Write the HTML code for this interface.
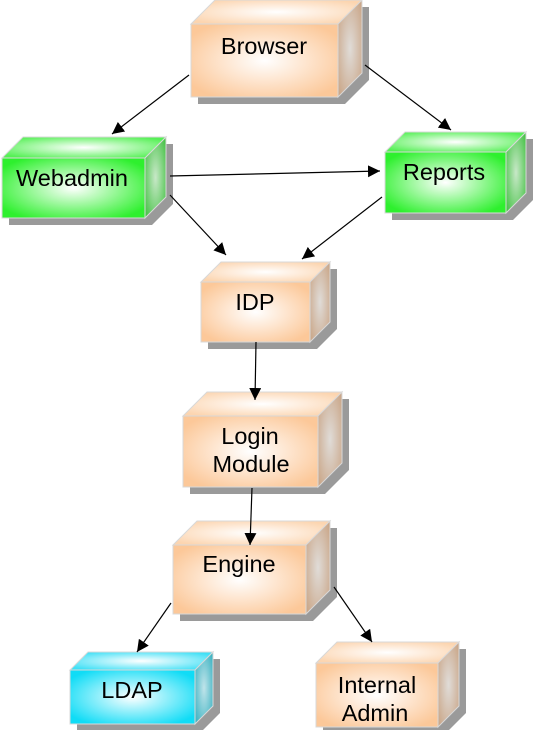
<!DOCTYPE html>
<html><head><meta charset="utf-8"><style>html,body{margin:0;padding:0;background:#fff}svg{display:block}</style></head>
<body>
<svg width="539" height="730" viewBox="0 0 539 730" xmlns="http://www.w3.org/2000/svg" font-family="Liberation Sans, sans-serif" font-size="23.5">
<defs>
<radialGradient id="fo" cx="0.5" cy="0.5" r="0.6"><stop offset="0" stop-color="#fff"/><stop offset="1" stop-color="#fcc899"/></radialGradient>
<radialGradient id="to" cx="0.5" cy="0.5" r="0.6"><stop offset="0" stop-color="#fff"/><stop offset="1" stop-color="#fcd5b0"/></radialGradient>
<radialGradient id="ro" cx="0.5" cy="0.5" r="0.7"><stop offset="0" stop-color="#e0dcd8"/><stop offset="1" stop-color="#c8a282"/></radialGradient>
<radialGradient id="fg" cx="0.5" cy="0.5" r="0.6"><stop offset="0" stop-color="#fff"/><stop offset="1" stop-color="#2ef02e"/></radialGradient>
<radialGradient id="tg" cx="0.5" cy="0.5" r="0.6"><stop offset="0" stop-color="#fff"/><stop offset="1" stop-color="#55f055"/></radialGradient>
<radialGradient id="rg" cx="0.5" cy="0.5" r="0.7"><stop offset="0" stop-color="#c8e8c8"/><stop offset="1" stop-color="#3cbf3c"/></radialGradient>
<radialGradient id="fc" cx="0.5" cy="0.5" r="0.6"><stop offset="0" stop-color="#fff"/><stop offset="1" stop-color="#10dcf6"/></radialGradient>
<radialGradient id="tc" cx="0.5" cy="0.5" r="0.6"><stop offset="0" stop-color="#fff"/><stop offset="1" stop-color="#40e0f6"/></radialGradient>
<radialGradient id="rc" cx="0.5" cy="0.5" r="0.7"><stop offset="0" stop-color="#c0e4ea"/><stop offset="1" stop-color="#30aebe"/></radialGradient>
<marker id="ar" viewBox="0 0 10 10" refX="10" refY="5" markerWidth="12" markerHeight="12" markerUnits="userSpaceOnUse" orient="auto"><path d="M0,0 L10,5 L0,10 z" fill="#000"/></marker>
</defs>
<g fill="#9a9a9a" transform="translate(7,7)">
<polygon points="191,24 215,0 362,0 362,73 338,97 191,97"/>
<polygon points="2,158 23,137 166,137 166,197 145,218 2,218"/>
<polygon points="385,152 405,132 526,132 526,193 506,213 385,213"/>
<polygon points="201,282 221,262 330,262 330,322 310,342 201,342"/>
<polygon points="183,416 207,392 342,392 342,463 318,487 183,487"/>
<polygon points="173,545 197,521 330,521 330,590 306,614 173,614"/>
<polygon points="70,670 88,652 213,652 213,706 195,724 70,724"/>
<polygon points="316,663 337,642 459,642 459,706 438,727 316,727"/>
</g>
<g stroke="#d8d8d8" stroke-width="1">
<rect x="191" y="24" width="147" height="73" fill="url(#fo)"/><polygon points="191,24 215,0 362,0 338,24" fill="url(#to)"/><polygon points="338,24 362,0 362,73 338,97" fill="url(#ro)"/>
<rect x="2" y="158" width="143" height="60" fill="url(#fg)"/><polygon points="2,158 23,137 166,137 145,158" fill="url(#tg)"/><polygon points="145,158 166,137 166,197 145,218" fill="url(#rg)"/>
<rect x="385" y="152" width="121" height="61" fill="url(#fg)"/><polygon points="385,152 405,132 526,132 506,152" fill="url(#tg)"/><polygon points="506,152 526,132 526,193 506,213" fill="url(#rg)"/>
<rect x="201" y="282" width="109" height="60" fill="url(#fo)"/><polygon points="201,282 221,262 330,262 310,282" fill="url(#to)"/><polygon points="310,282 330,262 330,322 310,342" fill="url(#ro)"/>
<rect x="183" y="416" width="135" height="71" fill="url(#fo)"/><polygon points="183,416 207,392 342,392 318,416" fill="url(#to)"/><polygon points="318,416 342,392 342,463 318,487" fill="url(#ro)"/>
<rect x="173" y="545" width="133" height="69" fill="url(#fo)"/><polygon points="173,545 197,521 330,521 306,545" fill="url(#to)"/><polygon points="306,545 330,521 330,590 306,614" fill="url(#ro)"/>
<rect x="70" y="670" width="125" height="54" fill="url(#fc)"/><polygon points="70,670 88,652 213,652 195,670" fill="url(#tc)"/><polygon points="195,670 213,652 213,706 195,724" fill="url(#rc)"/>
<rect x="316" y="663" width="122" height="64" fill="url(#fo)"/><polygon points="316,663 337,642 459,642 438,663" fill="url(#to)"/><polygon points="438,663 459,642 459,706 438,727" fill="url(#ro)"/>
</g>
<g stroke="#000" stroke-width="1.2" marker-end="url(#ar)">
<line x1="189" y1="75" x2="112" y2="134"/>
<line x1="365" y1="65" x2="451" y2="130"/>
<line x1="170" y1="176" x2="380" y2="171"/>
<line x1="170" y1="195" x2="226" y2="255"/>
<line x1="382" y1="197" x2="302" y2="259"/>
<line x1="256" y1="342" x2="255" y2="400"/>
<line x1="252" y1="488" x2="250" y2="545"/>
<line x1="171" y1="603" x2="137" y2="652"/>
<line x1="334" y1="587" x2="372" y2="642"/>
</g>
<g fill="#000" text-anchor="middle">
<text x="264" y="54">Browser</text>
<text x="72" y="186">Webadmin</text>
<text x="444" y="180">Reports</text>
<text x="255" y="310">IDP</text>
<text x="250" y="444">Login</text>
<text x="251" y="472">Module</text>
<text x="239" y="572">Engine</text>
<text x="132" y="698">LDAP</text>
<text x="377" y="693">Internal</text>
<text x="375" y="721">Admin</text>
</g>
</svg>
</body></html>
